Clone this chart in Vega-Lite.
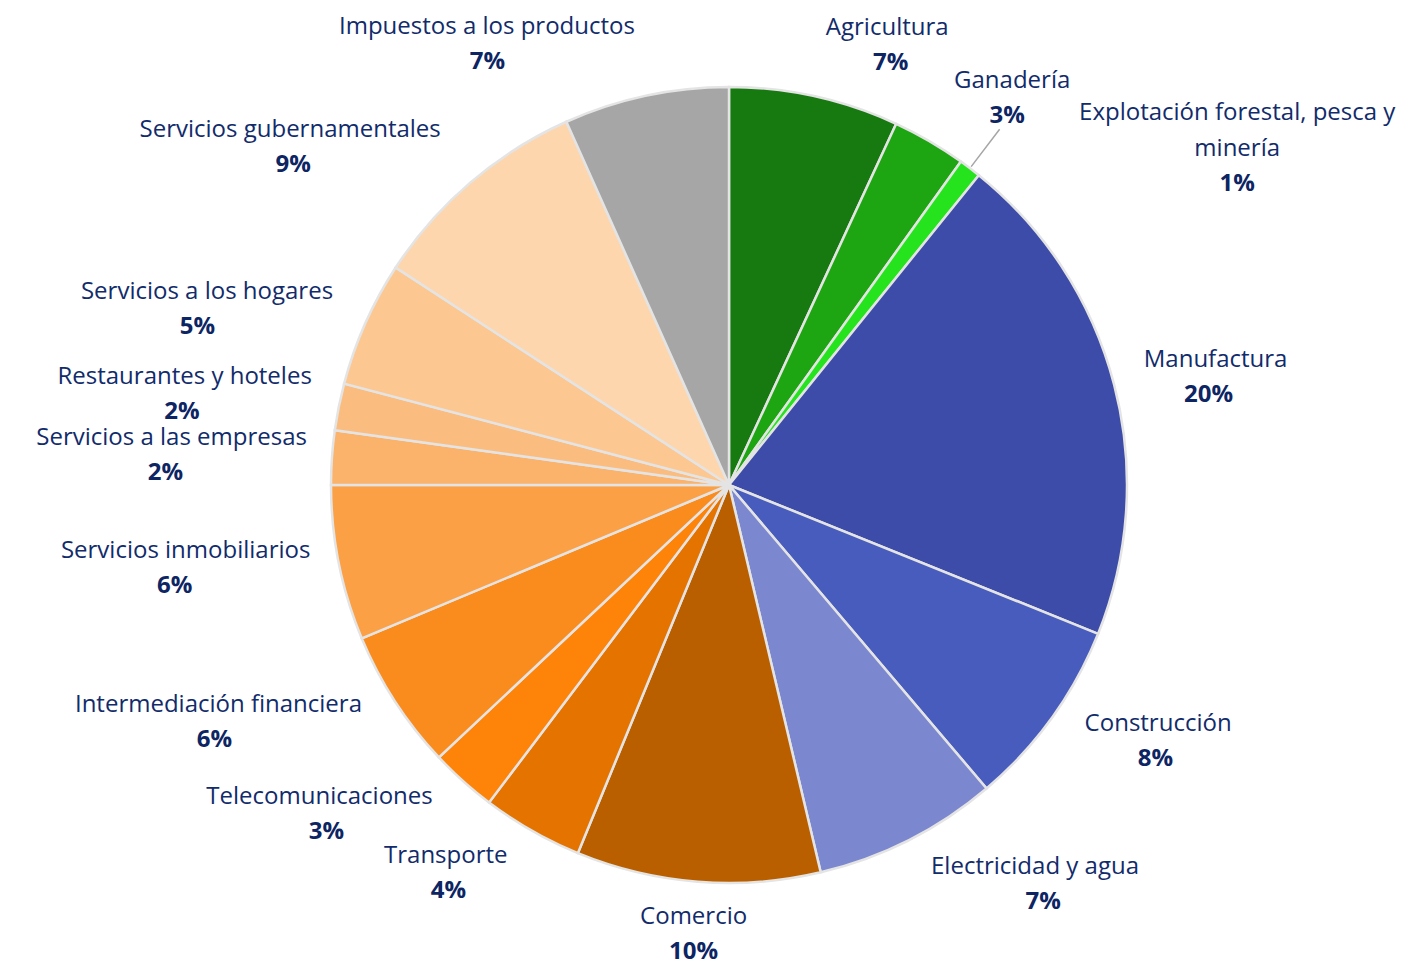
{
  "$schema": "https://vega.github.io/schema/vega-lite/v6.json",
  "width": 1413,
  "height": 966,
  "autosize": {"type": "fit", "contains": "padding"},
  "padding": {"left": 45, "right": 0, "top": 4, "bottom": 0},
  "background": "white",
  "config": {"view": {"stroke": null}},
  "data": {
    "values": [
      {"i": 1, "name": "Agricultura", "v": 6.9, "pct": "7%"},
      {"i": 2, "name": "Ganadería", "v": 3.0, "pct": "3%"},
      {"i": 3, "name": "Explotación forestal, pesca y\nminería", "v": 0.9, "pct": "1%"},
      {"i": 4, "name": "Manufactura", "v": 20.3, "pct": "20%"},
      {"i": 5, "name": "Construcción", "v": 7.7, "pct": "8%"},
      {"i": 6, "name": "Electricidad y agua", "v": 7.5, "pct": "7%"},
      {"i": 7, "name": "Comercio", "v": 9.9, "pct": "10%"},
      {"i": 8, "name": "Transporte", "v": 4.1, "pct": "4%"},
      {"i": 9, "name": "Telecomunicaciones", "v": 2.7, "pct": "3%"},
      {"i": 10, "name": "Intermediación financiera", "v": 5.7, "pct": "6%"},
      {"i": 11, "name": "Servicios inmobiliarios", "v": 6.3, "pct": "6%"},
      {"i": 12, "name": "Servicios a las empresas", "v": 2.2, "pct": "2%"},
      {"i": 13, "name": "Restaurantes y hoteles", "v": 1.9, "pct": "2%"},
      {"i": 14, "name": "Servicios a los hogares", "v": 5.1, "pct": "5%"},
      {"i": 15, "name": "Servicios gubernamentales", "v": 9.1, "pct": "9%"},
      {"i": 16, "name": "Impuestos a los productos", "v": 6.7, "pct": "7%"}
    ]
  },
  "encoding": {
    "theta": {"field": "v", "type": "quantitative", "stack": true},
    "order": {"field": "i", "type": "quantitative"}
  },
  "layer": [
    {
      "mark": {"type": "arc", "outerRadius": 398, "stroke": "#E4E4E4", "strokeWidth": 2.5},
      "encoding": {
        "color": {
          "field": "i",
          "type": "nominal",
          "scale": {
            "domain": [1, 2, 3, 4, 5, 6, 7, 8, 9, 10, 11, 12, 13, 14, 15, 16],
            "range": ["#177A10", "#1EA512", "#25E41E", "#3D4CA8", "#485CBD", "#7B87CE", "#BA5F00", "#E57300", "#FD8309", "#FA8C1E", "#FBA044", "#FBB26A", "#FBBD7F", "#FCC791", "#FDD6AE", "#A6A6A6"]
          },
          "legend": null
        }
      }
    },
    {
      "mark": {
        "type": "arc",
        "innerRadius": 400,
        "outerRadius": 447,
        "padAngle": 0.1,
        "fill": "white",
        "fillOpacity": 0,
        "stroke": "#A6A6A6",
        "strokeWidth": 1.5,
        "strokeOpacity": {"expr": "datum.v < 1.5 ? 1 : 0"}
      }
    },
    {
      "mark": {
        "type": "text",
        "radius": {"expr": "datum.v < 1.5 ? 600 : 421 + 30 * abs(cos(PI * (datum.v_start + datum.v_end) / 100))"},
        "thetaOffset": {"expr": "datum.v < 1.5 ? 0.36 : (datum.v < 2 ? 0.016 : 0)"},
        "align": {"expr": "datum.v < 1.5 ? 'center' : (sin(PI * (datum.v_start + datum.v_end) / 100) > 0.1 ? 'left' : (sin(PI * (datum.v_start + datum.v_end) / 100) < -0.1 ? 'right' : 'center'))"},
        "baseline": "middle",
        "dy": {"expr": "datum.v < 1.5 ? -53.5 : -17.5"},
        "lineBreak": "\n",
        "lineHeight": 36,
        "font": "Open Sans",
        "fontSize": 24,
        "fill": "#112B6B"
      },
      "encoding": {"text": {"field": "name"}}
    },
    {
      "mark": {
        "type": "text",
        "radius": {"expr": "datum.v < 1.5 ? 600 : 421 + 30 * abs(cos(PI * (datum.v_start + datum.v_end) / 100))"},
        "thetaOffset": {"expr": "datum.v < 1.5 ? 0.36 : (datum.v < 2 ? 0.016 : 0)"},
        "align": "center",
        "dx": {"expr": "datum.v < 1.5 ? 0 : (sin(PI * (datum.v_start + datum.v_end) / 100) > 0.1 ? 5.9 * length(datum.name) : (sin(PI * (datum.v_start + datum.v_end) / 100) < -0.1 ? -5.9 * length(datum.name) : 0))"},
        "baseline": "middle",
        "dy": 17.5,
        "font": "Open Sans",
        "fontSize": 24,
        "fontWeight": "bold",
        "fill": "#0D2563"
      },
      "encoding": {"text": {"field": "pct"}}
    }
  ]
}
